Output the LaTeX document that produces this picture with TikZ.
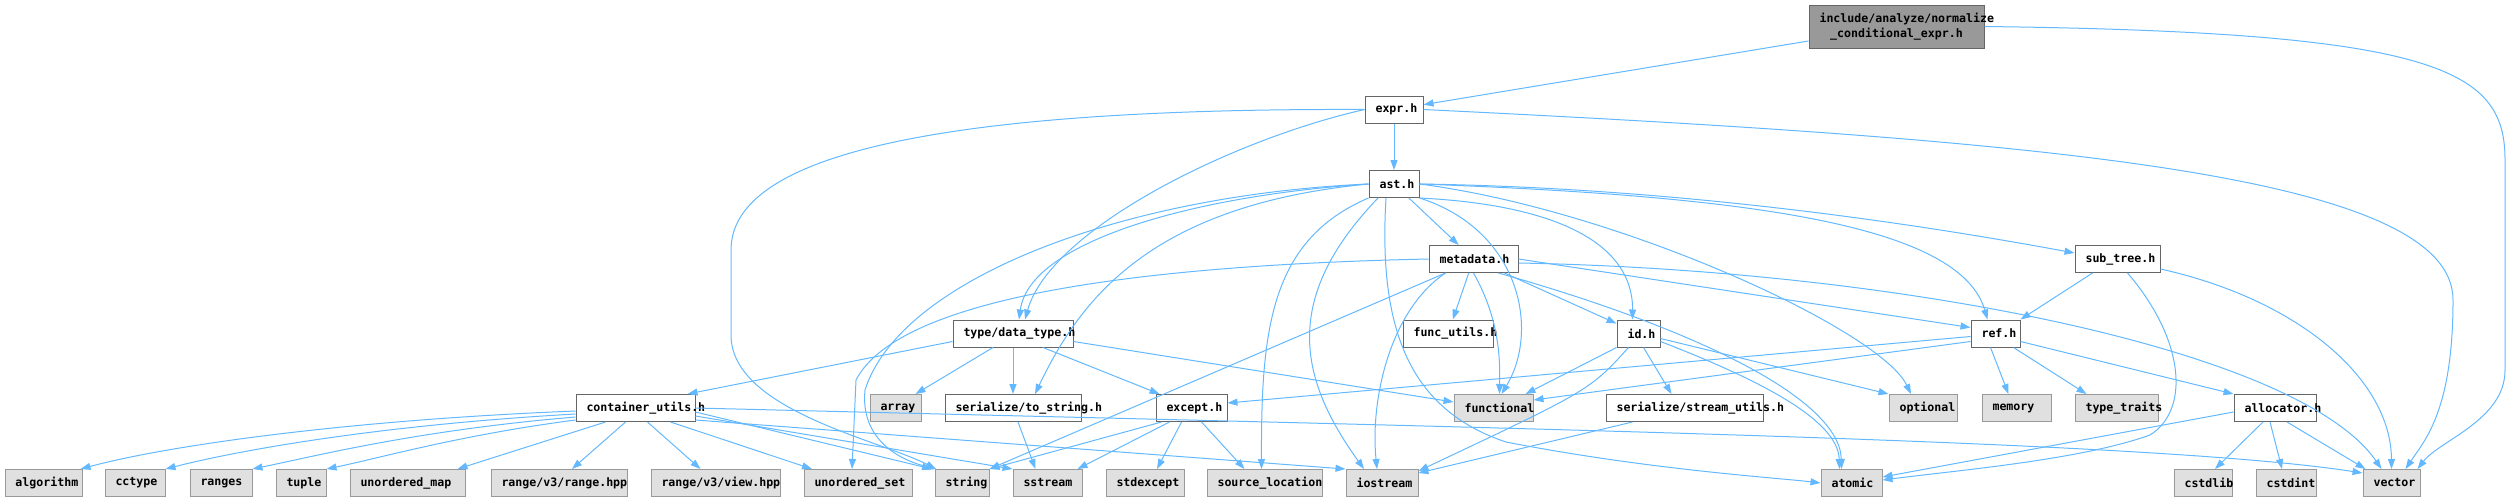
\documentclass[tikz,border=0pt]{standalone}
\usepackage{fontspec}
\newfontfamily\dotfont[HyphenChar=None]{DejaVu Sans Mono}
\usepackage{tikz}
\usetikzlibrary{arrows.meta, positioning}
\definecolor{edgeblue}{RGB}{99,184,255}
\definecolor{intgray}{RGB}{102,102,102}
\definecolor{extgray}{RGB}{153,153,153}
\definecolor{extfill}{RGB}{224,224,224}

\begin{document}
\begin{tikzpicture}[
  x=1pt, y=1pt,
  font=\dotfont\bfseries\fontsize{11.6pt}{15.7pt}\selectfont,
  file/.style={draw, line width=1pt, minimum height=27pt, inner xsep=10.5pt, inner ysep=0pt, align=left},
  int/.style={file, draw=intgray, fill=white},
  ext/.style={file, draw=extgray, fill=extfill},
  root/.style={file, draw=intgray, fill=extgray, minimum height=43pt, align=center},
  dep/.style={draw=edgeblue, line width=1pt, -{Triangle[length=10pt,width=7pt]}}
]
  \useasboundingbox (0,0) rectangle (2510,-501);
  \node[root, text width=154pt] (root) at (1896.5,-26.5) {include/analyze/normalize\\\_conditional\_expr.h};
  \node[int, text width=37pt] (expr) at (1394,-109.5) {expr.h};
  \node[int, text width=29pt] (ast) at (1394,-184) {ast.h};
  \node[int, text width=68pt] (metadata) at (1473.5,-259) {metadata.h};
  \node[int, text width=64pt] (subtree) at (2117.5,-259) {sub\_tree.h};
  \node[int, text width=99pt] (datatype) at (1013,-333.5) {type/data\_type.h};
  \node[int, text width=69pt] (funcutils) at (1448,-333.5) {func\_utils.h};
  \node[int, text width=22pt] (id) at (1638.5,-333.5) {id.h};
  \node[int, text width=28pt] (ref) at (1995.5,-333.5) {ref.h};
  \node[int, text width=98pt] (cu) at (635.5,-408) {container\_utils.h};
  \node[ext, text width=30pt] (array) at (895.5,-408) {array};
  \node[int, text width=115pt] (tostring) at (1013,-408) {serialize/to\_string.h};
  \node[int, text width=50pt] (except) at (1191.5,-408) {except.h};
  \node[ext, text width=58pt] (functional) at (1493.5,-408) {functional};
  \node[int, text width=136pt] (streamutils) at (1684.5,-408) {serialize/stream\_utils.h};
  \node[ext, text width=47pt] (optional) at (1923,-408) {optional};
  \node[ext, text width=48pt] (memory) at (2016.5,-408) {memory};
  \node[ext, text width=62pt] (typetraits) at (2116.5,-408) {type\_traits};
  \node[int, text width=61pt] (allocator) at (2275,-408) {allocator.h};
  \node[ext, text width=56pt] (algorithm) at (43.5,-483) {algorithm};
  \node[ext, text width=39pt] (cctype) at (135,-483) {cctype};
  \node[ext, text width=41pt] (ranges) at (221,-483) {ranges};
  \node[ext, text width=29pt] (tuple) at (301,-483) {tuple};
  \node[ext, text width=94pt] (unorderedmap) at (407.5,-483) {unordered\_map};
  \node[ext, text width=115pt] (rangehpp) at (559,-483) {range/v3/range.hpp};
  \node[ext, text width=108pt] (viewhpp) at (715.5,-483) {range/v3/view.hpp};
  \node[ext, text width=87pt] (unorderedset) at (858,-483) {unordered\_set};
  \node[ext, text width=33pt] (string) at (962,-483) {string};
  \node[ext, text width=48pt] (sstream) at (1047.5,-483) {sstream};
  \node[ext, text width=57pt] (stdexcept) at (1145,-483) {stdexcept};
  \node[ext, text width=94pt] (sourceloc) at (1264.5,-483) {source\_location};
  \node[ext, text width=51pt] (iostream) at (1382,-483) {iostream};
  \node[ext, text width=40pt] (atomic) at (1851.5,-483) {atomic};
  \node[ext, text width=37pt] (cstdlib) at (2203,-483) {cstdlib};
  \node[ext, text width=39pt] (cstdint) at (2286,-483) {cstdint};
  \node[ext, text width=36pt] (vector) at (2391.5,-483) {vector};

  \draw[dep] (root) -- (expr);
  \draw[dep] (root.east) .. controls (2440,-32) and (2505,-70) .. (2505,-160) -- (2505,-370) .. controls (2505,-420) and (2440,-440) .. ([xshift=26]vector.north);
  \draw[dep] (expr) -- (ast);
  \draw[dep] (expr.west) .. controls (1230,-140) and (1050,-230) .. ([xshift=12]datatype.north);
  \draw[dep] (expr.west) .. controls (960,-108) and (731,-150) .. (731,-250) -- (731,-335) .. controls (731,-410) and (880,-440) .. ([xshift=-26]string.north);
  \draw[dep] (expr.east) .. controls (2050,-140) and (2453,-175) .. (2453,-300) .. controls (2453,-410) and (2425,-440) .. ([xshift=14]vector.north);

  \draw[dep] (ast) -- (metadata);
  \draw[dep] (ast.east) .. controls (1700,-188) and (1950,-230) .. ([yshift=6]subtree.west);
  \draw[dep] (ast.east) .. controls (1750,-196) and (1960,-225) .. ([xshift=-8]ref.north);
  \draw[dep] (ast.south east) .. controls (1560,-205) and (1633,-245) .. ([xshift=-6]id.north);
  \draw[dep] (ast.east) .. controls (1620,-210) and (1880,-330) .. ([xshift=-12]optional.north);
  \draw[dep] ([xshift=-8]ast.south) .. controls (1378,-330) and (1410,-410) .. (1506,-442) .. controls (1650,-470) and (1780,-478) .. (atomic.west);
  \draw[dep] ([xshift=-16]ast.south) .. controls (1280,-300) and (1300,-380) .. ([xshift=-18]iostream.north);
  \draw[dep] (ast.south west) .. controls (1270,-240) and (1261,-330) .. ([xshift=-3]sourceloc.north);
  \draw[dep] (ast.south east) .. controls (1520,-230) and (1540,-330) .. ([xshift=8]functional.north);
  \draw[dep] (ast.west) .. controls (1200,-195) and (1030,-240) .. ([xshift=6]datatype.north);
  \draw[dep] (ast.west) .. controls (1150,-205) and (1080,-300) .. ([xshift=22]tostring.north);
  \draw[dep] (ast.west) .. controls (1120,-195) and (900,-280) .. (865,-390) .. controls (860,-440) and (900,-460) .. ([xshift=-26]string.north);

  \draw[dep] (metadata) -- (funcutils);
  \draw[dep] (metadata) -- (id);
  \draw[dep] (metadata.east) -- ([yshift=6]ref.west);
  \draw[dep] (metadata.south) .. controls (1500,-320) and (1500,-360) .. ([xshift=6]functional.north);
  \draw[dep] ([xshift=25]metadata.south) .. controls (1700,-330) and (1840,-400) .. ([xshift=-10]atomic.north);
  \draw[dep] ([xshift=-28]metadata.south) .. controls (1390,-310) and (1370,-400) .. ([xshift=-5]iostream.north);
  \draw[dep] ([xshift=-28]metadata.south) -- (string.north east);
  \draw[dep] (metadata.west) .. controls (1150,-265) and (900,-295) .. (856,-380) -- ([xshift=-6]unorderedset.north);
  \draw[dep] ([yshift=-4]metadata.east) .. controls (1900,-270) and (2300,-350) .. ([xshift=-10]vector.north);

  \draw[dep] ([yshift=-8]datatype.west) -- ([xshift=-8]cu.north east);
  \draw[dep] ([xshift=-20]datatype.south) -- ([xshift=20]array.north);
  \draw[dep] (datatype) -- (tostring);
  \draw[dep] ([xshift=30]datatype.south) -- ([xshift=-32]except.north);
  \draw[dep] ([yshift=-8]datatype.east) -- ([yshift=6]functional.west);

  \draw[dep] ([yshift=-3]cu.west) .. controls (350,-420) and (170,-445) .. ([xshift=-2]algorithm.north east);
  \draw[dep] ([yshift=-6]cu.west) .. controls (380,-425) and (240,-450) .. (cctype.north east);
  \draw[dep] ([yshift=-9]cu.west) .. controls (420,-430) and (320,-455) .. (ranges.north east);
  \draw[dep] ([yshift=-12]cu.west) .. controls (460,-435) and (380,-458) .. (tuple.north east);
  \draw[dep] ([xshift=-30]cu.south) -- ([xshift=50]unorderedmap.north);
  \draw[dep] ([xshift=-10]cu.south) -- ([xshift=13]rangehpp.north);
  \draw[dep] ([xshift=12]cu.south) -- ([xshift=-15]viewhpp.north);
  \draw[dep] ([xshift=35]cu.south) -- ([xshift=-46]unorderedset.north);
  \draw[dep] ([yshift=-4]cu.east) -- ([xshift=-30]string.north);
  \draw[dep] ([yshift=-8]cu.east) -- (sstream.north west);
  \draw[dep] ([yshift=-12]cu.east) -- (iostream.north west);
  \draw[dep] (cu.east) .. controls (1500,-428) and (2150,-440) .. ([yshift=10]vector.west);

  \draw[dep] ([xshift=5]tostring.south) -- ([xshift=-12]sstream.north);
  \draw[dep] ([xshift=-30]except.south) -- (string.north east);
  \draw[dep] ([xshift=-22]except.south) -- ([xshift=30]sstream.north);
  \draw[dep] ([xshift=-10]except.south) -- ([xshift=12]stdexcept.north);
  \draw[dep] ([xshift=10]except.south) -- ([xshift=-20]sourceloc.north);

  \draw[dep] (id.south west) -- ([xshift=32]functional.north);
  \draw[dep] ([xshift=5]id.south) -- ([xshift=-13]streamutils.north);
  \draw[dep] ([yshift=-5]id.east) -- (optional.north west);
  \draw[dep] ([yshift=-8]id.east) .. controls (1760,-380) and (1838,-420) .. ([xshift=-12]atomic.north);
  \draw[dep] ([xshift=-10]id.south) .. controls (1590,-390) .. ([yshift=12]iostream.east);
  \draw[dep] ([xshift=-52]streamutils.south) -- ([yshift=10]iostream.east);

  \draw[dep] ([yshift=-3]ref.west) -- ([yshift=5]except.east);
  \draw[dep] ([yshift=-8]ref.west) -- ([yshift=8]functional.east);
  \draw[dep] ([xshift=-5]ref.south) -- ([xshift=-8]memory.north);
  \draw[dep] ([xshift=18]ref.south) -- ([xshift=-30]typetraits.north);
  \draw[dep] ([yshift=-8]ref.east) -- (allocator.north west);

  \draw[dep] ([xshift=-25]subtree.south) -- (ref.north east);
  \draw[dep] ([xshift=10]subtree.south) .. controls (2185,-340) and (2190,-410) .. (2150,-435) .. controls (2080,-460) and (1960,-470) .. ([yshift=3]atomic.east);
  \draw[dep] ([yshift=-10]subtree.east) .. controls (2300,-300) and (2391,-380) .. (vector.north);

  \draw[dep] ([yshift=-4]allocator.west) -- ([yshift=6]atomic.east);
  \draw[dep] ([xshift=-12]allocator.south) -- ([xshift=12]cstdlib.north);
  \draw[dep] ([xshift=-5]allocator.south) -- ([xshift=-4]cstdint.north);
  \draw[dep] ([xshift=12]allocator.south) -- ([xshift=-26]vector.north);
\end{tikzpicture}
\end{document}
